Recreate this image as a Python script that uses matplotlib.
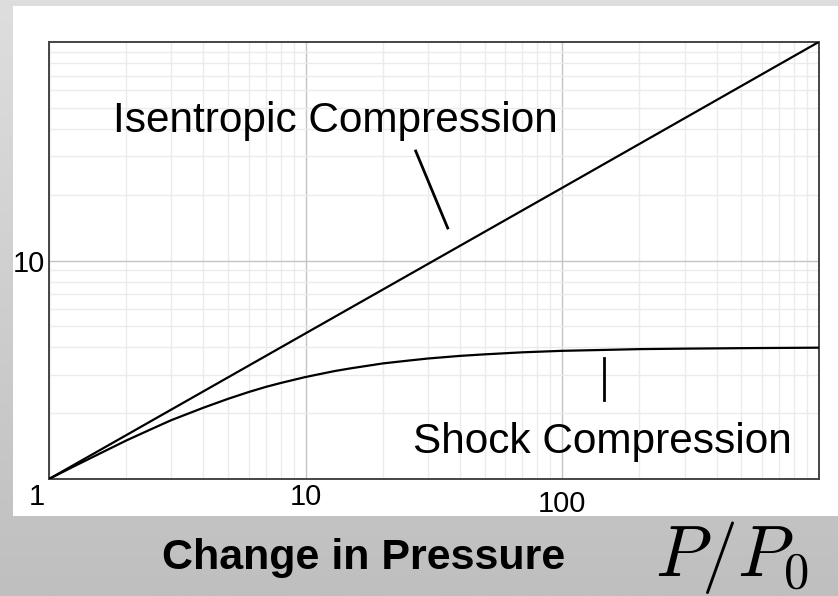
import numpy as np
import matplotlib.pyplot as plt
from matplotlib.patches import Rectangle

plt.rcParams['font.family'] = ['Liberation Sans', 'DejaVu Sans']
plt.rcParams['mathtext.fontset'] = 'cm'

# values
pressure_isen = [1, 10, 100, 1000]
density_isen = [1.0, 4.64, 21.5, 100.0]

pressure_shock = [1, 1.2, 1.5, 2, 2.5, 3, 4, 5, 6, 7, 8, 10, 13, 15, 20, 25,
                  30, 40, 50, 70, 100, 150, 200, 300, 500, 700, 1000]
density_shock = [1.0, 1.115, 1.27, 1.5, 1.69, 1.86, 2.12, 2.33, 2.5, 2.64,
                 2.75, 2.93, 3.12, 3.21, 3.38, 3.48, 3.56, 3.66, 3.72, 3.80,
                 3.86, 3.90, 3.93, 3.95, 3.97, 3.98, 3.99]

xtick_vals = [1, 10, 100]
xtick_labels = ['1', '10', '100']
ytick_vals = [10]
ytick_labels = ['10']

W, H = 838, 596
fig = plt.figure(figsize=(W / 100, H / 100), dpi=100)

# grey gradient backdrop with white panel
bg = fig.add_axes([0, 0, 1, 1], zorder=-10)
grad = np.linspace(0, 1, 256).reshape(-1, 1)
bg.imshow(grad, cmap=plt.matplotlib.colors.LinearSegmentedColormap.from_list(
    'g', ['#dedede', '#bfbfbf']), aspect='auto', extent=[0, 1, 0, 1])
bg.add_patch(Rectangle((13 / W, 1 - 516 / H), 1, (516 - 6) / H,
                       facecolor='white', edgecolor='none'))
bg.set_xlim(0, 1)
bg.set_ylim(0, 1)
bg.axis('off')

left, right, top, bottom = 49, 818.7, 42, 479
ax = fig.add_axes([left / W, 1 - bottom / H, (right - left) / W, (bottom - top) / H])
ax.set_facecolor('white')
ax.set_xscale('log')
ax.set_yscale('log')
ax.set_xlim(1, 1000)
ax.set_ylim(1, 100)

ax.grid(True, which='major', color='#c4c4c4', lw=1.0)
ax.grid(True, which='minor', color='#ebebeb', lw=1.0)
ax.set_axisbelow(True)

ax.plot(pressure_isen, density_isen, color='black', lw=1.6, zorder=3)
ax.plot(pressure_shock, density_shock, color='black', lw=1.6, zorder=3)

for s in ax.spines.values():
    s.set_color('#444444')
    s.set_linewidth(1.4)

ax.tick_params(which='both', length=0)
ax.set_xticks(xtick_vals)
ax.set_xticklabels([])
ax.set_xticks(list(np.arange(2, 10)) + list(np.arange(20, 100, 10)) + list(np.arange(200, 1000, 100)), minor=True)
ax.set_xticklabels([], minor=True)
ax.set_yticks(ytick_vals)
ax.set_yticklabels(ytick_labels, fontsize=21)
ax.set_yticklabels([], minor=True)
ax.tick_params(axis='y', pad=3)

# x tick labels drawn as text (the reference staggers them slightly)
xlab_off = [-12, 0, 0]
xlab_y = [497, 497, 504]
for v, lab, dx, yy in zip(xtick_vals, xtick_labels, xlab_off, xlab_y):
    ax.annotate(lab, xy=(v, 1), xycoords='data', xytext=(dx, -(yy - bottom)),
                textcoords='offset pixels', ha='center', va='center', fontsize=21)

# annotations
fig.text(113 / W, 1 - 131.7 / H, 'Isentropic Compression', fontsize=30.5,
         ha='left', va='baseline')
fig.text(413 / W, 1 - 452.7 / H, 'Shock Compression', fontsize=30.5,
         ha='left', va='baseline')
fig.add_artist(plt.Line2D([415.7 / W, 447.7 / W], [1 - 151 / H, 1 - 228 / H],
                          color='black', lw=2))
fig.add_artist(plt.Line2D([604.3 / W, 604.3 / W], [1 - 358 / H, 1 - 400 / H],
                          color='black', lw=2))

# axis title
fig.text(364 / W, 1 - 569 / H, 'Change in Pressure', fontsize=31,
         fontweight='bold', ha='center', va='baseline')
fig.text(655 / W, 1 - 576 / H, r'$P/P_0$', fontsize=52, ha='left', va='baseline')

fig.savefig('out.png', dpi=100)
